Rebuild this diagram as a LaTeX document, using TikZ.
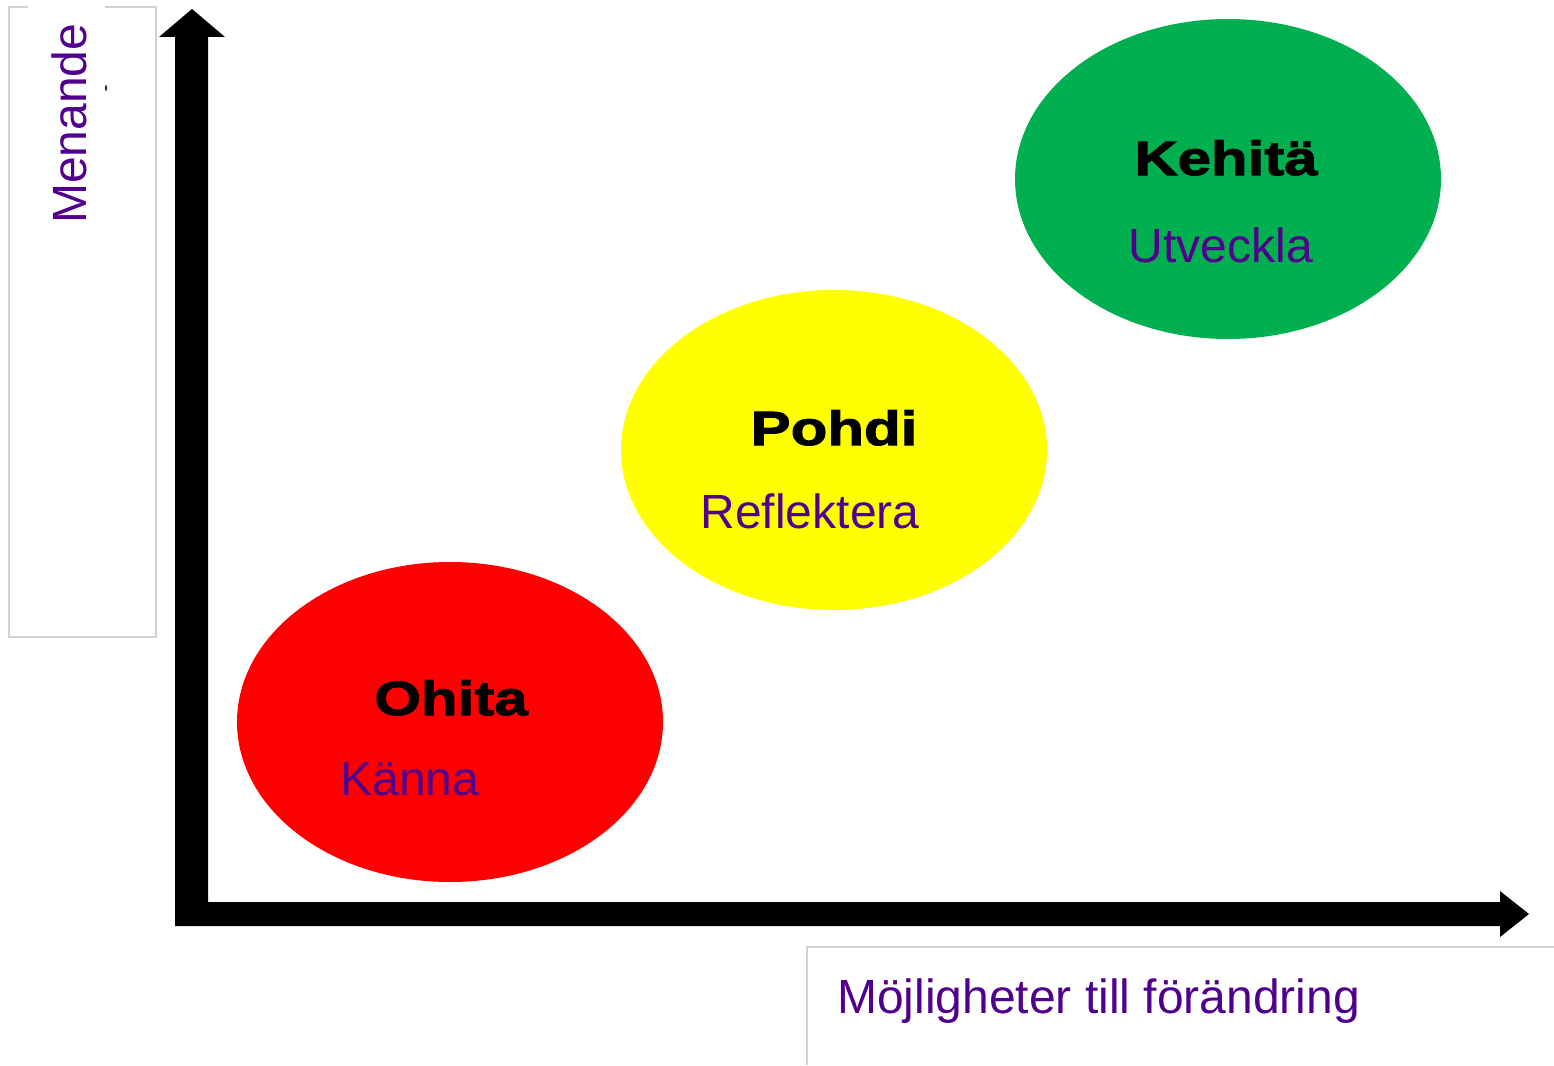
\documentclass[tikz,border=0pt]{standalone}
\usepackage{fontspec}
\setmainfont{Liberation Sans}
\newfontfamily\headfont[FakeStretch=1.25,BoldFeatures={FakeBold=2.2}]{Liberation Sans}
\usetikzlibrary{shapes.geometric}
\definecolor{labelpurple}{RGB}{80,0,140}
\definecolor{boxgray}{RGB}{210,210,210}
\definecolor{ellred}{RGB}{255,0,0}
\definecolor{ellyellow}{RGB}{255,255,0}
\definecolor{ellgreen}{RGB}{0,176,80}
\tikzset{
  blob/.style={ellipse, draw=none, minimum width=426pt, minimum height=320pt, inner sep=0pt},
  headtxt/.style={anchor=base, inner sep=0pt, font=\headfont\bfseries\fontsize{48}{48}\selectfont, text=black},
  subtxt/.style={anchor=base, inner sep=0pt, font=\fontsize{48}{48}\selectfont, text=labelpurple},
  axistxt/.style={inner sep=0pt, font=\fontsize{48}{48}\selectfont, text=labelpurple},
  framebox/.style={draw=boxgray, line width=1.2pt},
  axisfill/.style={fill=black, draw=none}
}
\begin{document}
\begin{tikzpicture}[x=1pt,y=-1pt]
\useasboundingbox (0,0) rectangle (1554,1065);
\fill[white] (0,0) rectangle (1554,1065);
% label frames
\draw[framebox] (28,7) -- (9,7) -- (9,637) -- (156,637) -- (156,7) -- (105,7);
\draw[framebox] (807,1065) -- (807,947) -- (1554,947);
\fill[black!80] (106,88) ellipse (1.2 and 3);
% axes
\coordinate (ytip) at (192,9);
\coordinate (xtip) at (1529,914);
\fill[axisfill] (175,926) -- (175,37) -- (159,37) -- (ytip) -- (225,37) -- (208,37) -- (208,902)
  -- (1500,902) -- (1500,891) -- (xtip) -- (1500,937) -- (1500,926) -- cycle;
% axis labels
\node[axistxt, rotate=90, anchor=base west] (ylab) at (86,224) {Menande};
\node[axistxt, anchor=base west] (xlab) at (837,1013) {Möjligheter till förändring};
% ellipses
\node[blob, fill=ellred] (red) at (450,722) {};
\node[blob, fill=ellyellow] (yellow) at (834,450) {};
\node[blob, fill=ellgreen] (green) at (1228,179) {};
% texts
\node[headtxt] (ohita) at (451,715) {Ohita};
\node[subtxt] (kanna) at (410,795) {Känna};
\node[headtxt] (pohdi) at (834,445) {Pohdi};
\node[subtxt] (reflektera) at (810,528) {Reflektera};
\node[headtxt] (kehita) at (1226,175) {Kehitä};
\node[subtxt] (utveckla) at (1221,262) {Utveckla};
\end{tikzpicture}
\end{document}
